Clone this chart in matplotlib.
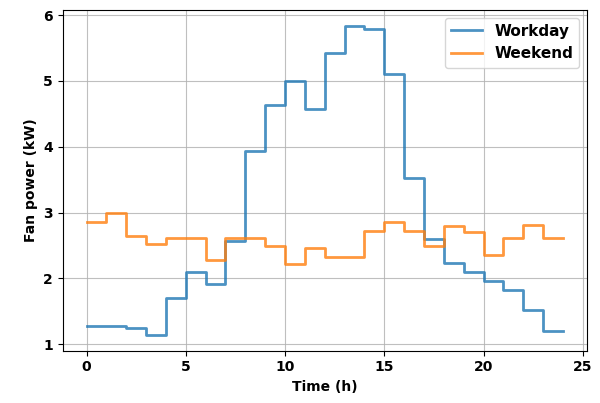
import numpy as np
import matplotlib
matplotlib.use('Agg')
import matplotlib.pyplot as plt

hours = np.arange(0, 25)
workday = [1.28, 1.28, 1.25, 1.14, 1.71, 2.10, 1.92, 2.57, 3.93, 4.64, 5.00, 4.58,
           5.43, 5.84, 5.79, 5.10, 3.53, 2.60, 2.23, 2.10, 1.96, 1.82, 1.52, 1.20]
weekend = [2.86, 2.99, 2.65, 2.53, 2.62, 2.62, 2.28, 2.62, 2.62, 2.50, 2.22, 2.46,
           2.32, 2.32, 2.72, 2.86, 2.72, 2.50, 2.79, 2.71, 2.36, 2.62, 2.81, 2.62]

plt.rcParams['font.weight'] = 'bold'
plt.rcParams['axes.labelweight'] = 'bold'

fig = plt.figure(figsize=(6, 4.03), dpi=100)
ax = fig.add_axes([0.1045, 0.130, 0.8735, 0.845])

ax.plot(hours, workday + [workday[-1]], drawstyle='steps-post', lw=2, alpha=0.8, label='Workday')
ax.plot(hours, weekend + [weekend[-1]], drawstyle='steps-post', lw=2, alpha=0.8, label='Weekend')

ax.set_xlabel('Time (h)')
ax.set_ylabel('Fan power (kW)')
ax.set_xticks([0, 5, 10, 15, 20, 25])
ax.grid(True, color='#b0b0b0', lw=0.8, alpha=0.8)
ax.legend(loc='upper right', prop={'weight': 'bold', 'size': 11})

fig.savefig('out.png', dpi=100)
